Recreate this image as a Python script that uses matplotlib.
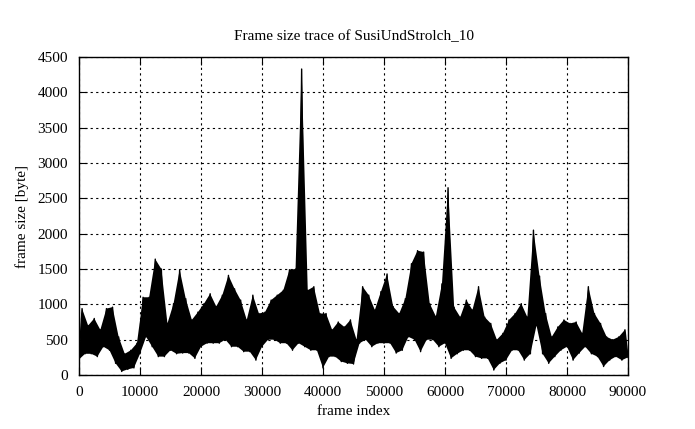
import matplotlib
matplotlib.use('Agg')
import matplotlib.pyplot as plt
import numpy as np

# Frame size trace (bytes), every 500 frames:
# values alternate between the local trough and the local peak
frame_step = 500
frame_size = [
    220, 940, 300, 700, 300, 800, 260, 640, 400, 940,
    350, 960, 165, 540, 50, 300, 80, 350, 100, 450,
    300, 1100, 540, 1100, 400, 1640, 260, 1500, 260, 730,
    350, 1010, 300, 1490, 310, 1080, 310, 780, 235, 890,
    400, 1010, 450, 1150, 450, 970, 450, 1130, 500, 1410,
    400, 1220, 400, 1060, 330, 780, 330, 1130, 210, 870,
    400, 890, 500, 1060, 500, 1130, 450, 1200, 450, 1490,
    350, 1500, 450, 4330, 400, 1200, 350, 1250, 350, 870,
    100, 870, 260, 640, 260, 750, 190, 680, 165, 780,
    155, 500, 450, 1250, 500, 1130, 400, 920, 450, 1180,
    450, 1430, 450, 970, 310, 870, 350, 1080, 540, 1575,
    500, 1760, 330, 1740, 500, 1010, 500, 830, 400, 1290,
    450, 2650, 235, 960, 300, 820, 350, 1060, 350, 920,
    260, 1250, 235, 820, 235, 730, 70, 500, 165, 590,
    210, 780, 350, 870, 350, 1010, 210, 820, 300, 2050,
    700, 1400, 300, 870, 165, 540, 260, 680, 350, 780,
    400, 730, 210, 750, 310, 590, 400, 1250, 300, 870,
    260, 730, 120, 540, 210, 500, 260, 540, 210, 640,
    250,
]
frames = np.arange(len(frame_size)) * frame_step
sizes = np.array(frame_size)

x_ticks = list(range(0, 90001, 10000))
y_ticks = list(range(0, 4501, 500))

plt.rcParams['font.family'] = ['Liberation Serif', 'DejaVu Serif']
plt.rcParams['font.size'] = 11

fig = plt.figure(figsize=(6.95, 4.29), dpi=100)
ax = fig.add_axes([79 / 695, 1 - 375 / 429, (628 - 79) / 695, (375 - 57) / 429])

# dense trace: fill between the peak points and the trough points
poly_x = np.r_[frames[1::2], frames[0::2][::-1]]
poly_y = np.r_[sizes[1::2], sizes[0::2][::-1]]
ax.fill(poly_x, poly_y, color='black', linewidth=0)
ax.plot(frames, sizes, color='black', linewidth=1.0)

ax.set_xlim(0, 90000)
ax.set_ylim(0, 4500)
ax.set_xticks(x_ticks)
ax.set_yticks(y_ticks)
ax.grid(True, color='black', linestyle=(0, (2, 3)), linewidth=0.8)
ax.tick_params(direction='in', length=6, width=0.8, top=True, right=True,
               pad=8, labelsize=11)
for s in ax.spines.values():
    s.set_linewidth(1.0)

ax.set_title('Frame size trace of SusiUndStrolch_10', fontsize=11, pad=12)
ax.set_xlabel('frame index', fontsize=11, labelpad=4)
ax.set_ylabel('frame size [byte]', fontsize=11, labelpad=6)

fig.savefig('out.png', dpi=100)
